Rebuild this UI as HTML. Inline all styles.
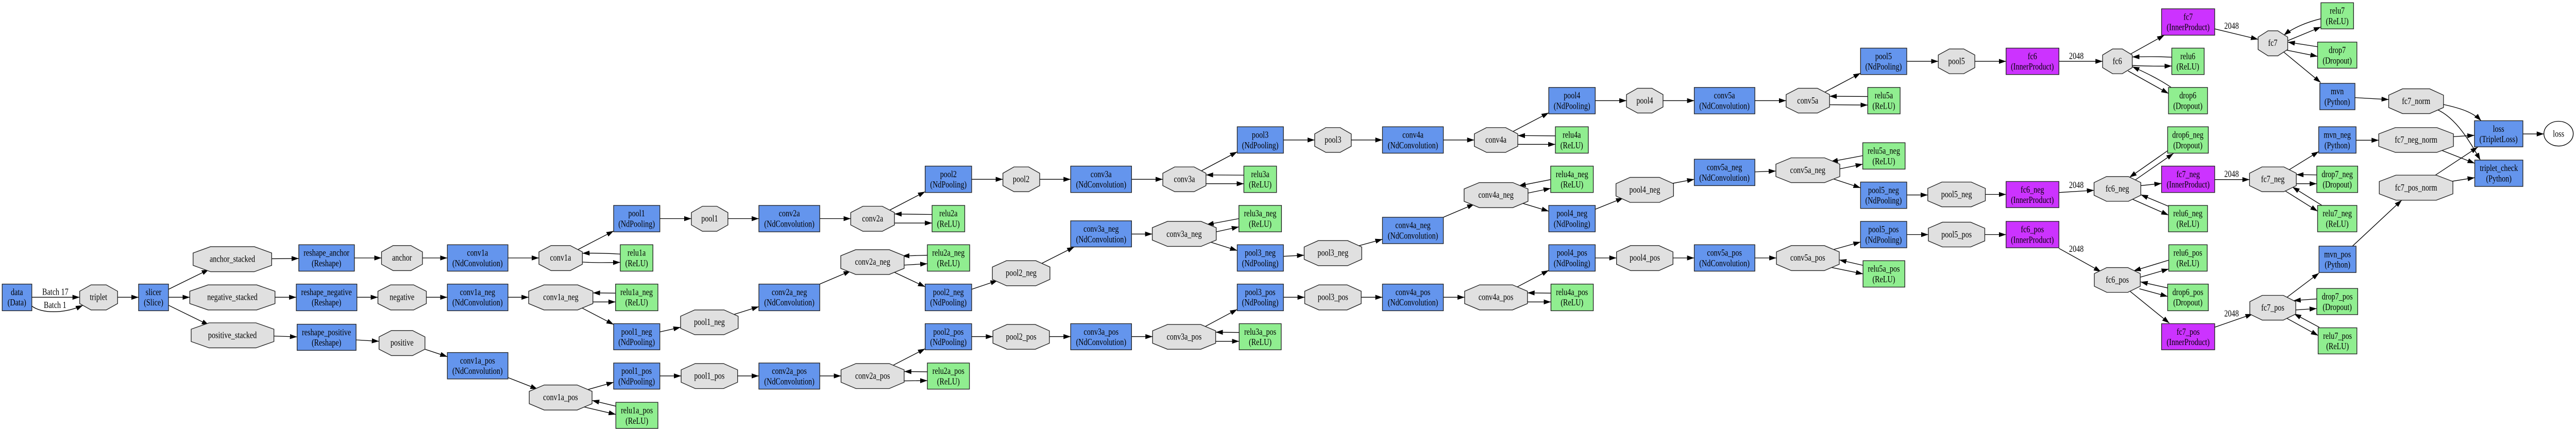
<!DOCTYPE html>
<html><head><meta charset="utf-8"><style>
html,body{margin:0;padding:0;background:#fff;width:100%;height:100%;overflow:hidden;}
svg{display:block;position:absolute;left:0;top:0;width:100%;height:100%;}
text{font-family:"Liberation Serif",serif;font-size:33px;text-anchor:middle;fill:#000;}
.b{fill:#6495ED;stroke:#222;stroke-width:2.5}
.g{fill:#90EE90;stroke:#222;stroke-width:2.5}
.m{fill:#CC33FF;stroke:#222;stroke-width:2.5}
.o{fill:#E0E0E0;stroke:#222;stroke-width:2.5}
.e{fill:none;stroke:#000;stroke-width:2.5;marker-end:url(#a)}
</style></head><body>
<svg width="100%" height="100%" viewBox="0 0 9311 1560" preserveAspectRatio="none" xmlns="http://www.w3.org/2000/svg">
<defs><marker id="a" markerWidth="26" markerHeight="18" refX="26" refY="9" orient="auto" markerUnits="userSpaceOnUse"><path d="M0,0L26,9L0,18z" fill="#000"/></marker></defs>
<rect width="9311" height="1560" fill="#fff"/>
<g>
<path class="e" d="M115,1081L288,1081"/>
<path class="e" d="M115,1113C150,1140 230,1142 300,1110"/>
<path class="e" d="M425,1081L501,1081"/>
<path class="e" d="M609,1052L755,980"/><path class="e" d="M609,1081L686,1081"/><path class="e" d="M609,1110L755,1182"/>
<path class="e" d="M982,941L1080,940"/><path class="e" d="M994,1081L1071,1081"/><path class="e" d="M990,1222L1074,1225"/>
<path class="e" d="M1281,938L1379,938"/><path class="e" d="M1290,1081L1366,1081"/><path class="e" d="M1287,1236L1370,1241"/>
<path class="e" d="M1527,938L1617,938"/><path class="e" d="M1541,1081L1617,1081"/><path class="e" d="M1536,1270L1617,1297"/>
<path class="e" d="M1836,938L1948,938"/><path class="e" d="M2088,908L2218,840"/><path class="e" d="M2242,924C2180,920 2140,920 2105,921"/><path class="e" d="M2105,953C2150,956 2200,955 2242,954"/>
<path class="e" d="M2385,795L2499,795"/><path class="e" d="M2631,795L2743,795"/><path class="e" d="M2963,795L3075,795"/>
<path class="e" d="M1836,1081L1911,1081"/><path class="e" d="M2225,1066L2143,1065"/><path class="e" d="M2143,1098L2225,1098"/><path class="e" d="M2098,1117L2218,1180"/>
<path class="e" d="M2385,1207L2460,1190"/><path class="e" d="M2651,1144L2743,1115"/><path class="e" d="M2963,1033L3075,985"/>
<path class="e" d="M1836,1373L1943,1415"/><path class="e" d="M2120,1418L2218,1390"/><path class="e" d="M2226,1477L2140,1456"/><path class="e" d="M2103,1478L2226,1507"/>
<path class="e" d="M2385,1367L2462,1367"/><path class="e" d="M2666,1367L2743,1367"/><path class="e" d="M2963,1367L3040,1367"/>
<path class="e" d="M3214,765L3344,697"/><path class="e" d="M3369,780L3233,778"/><path class="e" d="M3233,811L3369,811"/>
<path class="e" d="M3352,928L3261,931"/><path class="e" d="M3268,964L3352,959"/><path class="e" d="M3226,987L3344,1043"/>
<path class="e" d="M3512,652L3625,652"/><path class="e" d="M3512,1052L3606,1020"/><path class="e" d="M3512,1224L3589,1224"/>
<path class="e" d="M3223,1331L3344,1268"/><path class="e" d="M3352,1352L3268,1351"/><path class="e" d="M3268,1385L3352,1384"/>
<path class="e" d="M3758,652L3870,652"/><path class="e" d="M3761,960L3883,898"/><path class="e" d="M3793,1224L3870,1224"/>
<path class="e" d="M4090,652L4203,652"/><path class="e" d="M4090,851L4165,851"/><path class="e" d="M4090,1224L4166,1224"/>
<path class="e" d="M4341,622L4472,552"/><path class="e" d="M4496,637L4359,636"/><path class="e" d="M4359,668L4496,668"/>
<path class="e" d="M4478,795L4361,817"/><path class="e" d="M4396,843L4478,825"/><path class="e" d="M4374,880L4472,911"/>
<path class="e" d="M4351,1190L4472,1125"/><path class="e" d="M4479,1209L4394,1208"/><path class="e" d="M4394,1241L4479,1241"/>
<path class="e" d="M4639,509L4752,509"/><path class="e" d="M4639,932L4714,928"/><path class="e" d="M4639,1081L4716,1081"/>
<path class="e" d="M4884,509L4997,509"/><path class="e" d="M4907,895L4997,870"/><path class="e" d="M4920,1081L4997,1081"/>
<path class="e" d="M5217,509L5329,509"/><path class="e" d="M5217,790L5329,742"/><path class="e" d="M5217,1081L5294,1081"/>
<path class="e" d="M5467,479L5598,410"/><path class="e" d="M5622,494L5486,493"/><path class="e" d="M5486,525L5622,525"/>
<path class="e" d="M5605,653L5489,676"/><path class="e" d="M5523,702L5605,685"/><path class="e" d="M5499,738L5598,768"/>
<path class="e" d="M5479,1046L5598,983"/><path class="e" d="M5606,1066L5521,1065"/><path class="e" d="M5521,1098L5606,1098"/>
<path class="e" d="M5766,366L5879,366"/><path class="e" d="M5766,761L5867,720"/><path class="e" d="M5766,938L5843,938"/>
<path class="e" d="M6011,366L6124,366"/><path class="e" d="M6044,667L6124,652"/><path class="e" d="M6047,938L6124,938"/>
<path class="e" d="M6343,366L6456,366"/><path class="e" d="M6343,625L6419,622"/><path class="e" d="M6343,938L6421,938"/>
<path class="e" d="M6594,336L6725,266"/><path class="e" d="M6751,351L6613,350"/><path class="e" d="M6613,381L6751,382"/>
<path class="e" d="M6733,566L6617,588"/><path class="e" d="M6650,614L6733,597"/><path class="e" d="M6625,650L6725,683"/>
<path class="e" d="M6625,908L6725,880"/><path class="e" d="M6734,965L6648,945"/><path class="e" d="M6612,971L6734,996"/>
<path class="e" d="M6892,223L7006,223"/><path class="e" d="M6892,709L6968,709"/><path class="e" d="M6892,853L6970,853"/>
<path class="e" d="M7138,223L7251,223"/><path class="e" d="M7176,707L7251,707"/><path class="e" d="M7174,853L7251,853"/>
<path class="e" d="M7442,223L7600,223"/><path class="e" d="M7442,700L7569,692"/><path class="e" d="M7442,903L7594,988"/>
<path class="e" d="M7700,197L7823,128"/>
<path class="e" d="M7850,208C7790,205 7750,206 7707,207"/><path class="e" d="M7707,238C7760,241 7800,241 7850,240"/>
<path class="e" d="M7848,318C7800,285 7750,262 7707,242"/><path class="e" d="M7692,258L7838,340"/>
<path class="e" d="M7835,548L7697,645"/><path class="e" d="M7717,655L7856,558"/><path class="e" d="M7738,675L7813,667"/>
<path class="e" d="M7838,750L7738,708"/><path class="e" d="M7707,724L7838,782"/>
<path class="e" d="M7839,946L7712,985"/><path class="e" d="M7736,1008L7839,978"/><path class="e" d="M7835,1047L7737,1025"/>
<path class="e" d="M7733,1050L7835,1078"/><path class="e" d="M7700,1060L7841,1175"/>
<path class="e" d="M8005,105L8162,143"/>
<path class="e" d="M8389,68C8340,80 8290,100 8255,128"/><path class="e" d="M8269,148L8389,98"/>
<path class="e" d="M8377,170L8269,153"/><path class="e" d="M8263,182L8377,205"/><path class="e" d="M8253,188L8388,300"/>
<path class="e" d="M8512,355L8634,362"/>
<path class="e" d="M8832,380C8900,395 8940,410 8968,439"/>
<path class="e" d="M8808,398C8880,430 8930,520 8965,582"/>
<path class="e" d="M8516,510L8598,510"/><path class="e" d="M8868,497L8944,492"/><path class="e" d="M8821,545L8945,594"/>
<path class="e" d="M8798,640L8956,535"/><path class="e" d="M8858,660L8945,646"/><path class="e" d="M9119,487L9195,487"/>
<path class="e" d="M8005,653L8131,653"/><path class="e" d="M8273,618L8381,551"/><path class="e" d="M8374,636L8300,635"/>
<path class="e" d="M8300,668L8374,668"/><path class="e" d="M8393,747L8286,680"/><path class="e" d="M8258,693L8377,768"/>
<path class="e" d="M8005,1190L8142,1142"/><path class="e" d="M8265,1082L8382,993"/><path class="e" d="M8374,1087L8290,1093"/>
<path class="e" d="M8298,1127L8374,1122"/><path class="e" d="M8383,1190L8292,1141"/><path class="e" d="M8263,1156L8379,1220"/>
<path class="e" d="M8503,895L8681,728"/>
</g>
<g>
<polygon class="o" points="329,1036 384,1036 425,1059 425,1104 384,1127 329,1127 288,1104 288,1059"/>
<polygon class="o" points="761,897 919,897 982,920 982,965 919,988 761,988 698,965 698,920"/>
<polygon class="o" points="752,1036 928,1036 994,1059 994,1104 928,1127 752,1127 686,1104 686,1059"/>
<polygon class="o" points="756,1174 925,1174 990,1197 990,1242 925,1265 756,1265 691,1242 691,1197"/>
<polygon class="o" points="1421,893 1485,893 1527,916 1527,961 1485,984 1421,984 1379,961 1379,916"/>
<polygon class="o" points="1412,1036 1495,1036 1541,1059 1541,1104 1495,1127 1412,1127 1366,1104 1366,1059"/>
<polygon class="o" points="1415,1202 1491,1202 1536,1225 1536,1270 1491,1293 1415,1293 1370,1270 1370,1225"/>
<polygon class="o" points="1992,893 2061,893 2105,916 2105,961 2061,984 1992,984 1948,961 1948,916"/>
<polygon class="o" points="2539,750 2591,750 2631,773 2631,818 2591,841 2539,841 2499,818 2499,773"/>
<polygon class="o" points="1966,1036 2088,1036 2143,1059 2143,1104 2088,1127 1966,1127 1911,1104 1911,1059"/>
<polygon class="o" points="2511,1127 2617,1127 2668,1150 2668,1194 2617,1217 2511,1217 2460,1194 2460,1150"/>
<polygon class="o" points="1967,1400 2086,1400 2140,1423 2140,1468 2086,1491 1967,1491 1913,1468 1913,1423"/>
<polygon class="o" points="2513,1322 2615,1322 2666,1345 2666,1390 2615,1413 2513,1413 2462,1390 2462,1345"/>
<polygon class="o" points="3119,750 3189,750 3233,773 3233,818 3189,841 3119,841 3075,818 3075,773"/>
<polygon class="o" points="3093,908 3214,908 3268,930 3268,976 3214,998 3093,998 3039,976 3039,930"/>
<polygon class="o" points="3094,1322 3214,1322 3268,1345 3268,1390 3214,1413 3094,1413 3040,1390 3040,1345"/>
<polygon class="o" points="3665,607 3718,607 3758,630 3758,675 3718,697 3665,697 3625,675 3625,630"/>
<polygon class="o" points="3638,948 3744,948 3795,971 3795,1016 3744,1039 3638,1039 3587,1016 3587,971"/>
<polygon class="o" points="3640,1180 3742,1180 3793,1203 3793,1248 3742,1270 3640,1270 3589,1248 3589,1203"/>
<polygon class="o" points="4246,607 4316,607 4359,630 4359,675 4316,697 4246,697 4203,675 4203,630"/>
<polygon class="o" points="4220,805 4341,805 4396,828 4396,873 4341,896 4220,896 4165,873 4165,828"/>
<polygon class="o" points="4220,1180 4340,1180 4394,1203 4394,1248 4340,1270 4220,1270 4166,1248 4166,1203"/>
<polygon class="o" points="4792,464 4844,464 4884,487 4884,532 4844,554 4792,554 4752,532 4752,487"/>
<polygon class="o" points="4765,875 4871,875 4922,898 4922,943 4871,966 4765,966 4714,943 4714,898"/>
<polygon class="o" points="4767,1036 4869,1036 4920,1059 4920,1104 4869,1127 4767,1127 4716,1104 4716,1059"/>
<polygon class="o" points="5373,464 5442,464 5486,487 5486,532 5442,554 5373,554 5329,532 5329,487"/>
<polygon class="o" points="5347,664 5468,664 5523,687 5523,732 5468,755 5347,755 5292,732 5292,687"/>
<polygon class="o" points="5348,1036 5467,1036 5521,1059 5521,1104 5467,1127 5348,1127 5294,1104 5294,1059"/>
<polygon class="o" points="5919,321 5971,321 6011,344 6011,389 5971,411 5919,411 5879,389 5879,344"/>
<polygon class="o" points="5892,645 5998,645 6049,668 6049,713 5998,736 5892,736 5841,713 5841,668"/>
<polygon class="o" points="5894,893 5996,893 6047,916 6047,961 5996,984 5894,984 5843,961 5843,916"/>
<polygon class="o" points="6500,321 6569,321 6613,344 6613,389 6569,411 6500,411 6456,389 6456,344"/>
<polygon class="o" points="6474,574 6595,574 6650,597 6650,642 6595,664 6474,664 6419,642 6419,597"/>
<polygon class="o" points="6475,893 6594,893 6648,916 6648,961 6594,984 6475,984 6421,961 6421,916"/>
<polygon class="o" points="7046,178 7098,178 7138,200 7138,246 7098,268 7046,268 7006,246 7006,200"/>
<polygon class="o" points="7019,662 7125,662 7176,685 7176,730 7125,752 7019,752 6968,730 6968,685"/>
<polygon class="o" points="7021,808 7123,808 7174,830 7174,876 7123,898 7021,898 6970,876 6970,830"/>
<polygon class="o" points="7636,178 7671,178 7707,200 7707,246 7671,268 7636,268 7600,246 7600,200"/>
<polygon class="o" points="7614,642 7693,642 7738,664 7738,710 7693,732 7614,732 7569,710 7569,664"/>
<polygon class="o" points="7615,973 7691,973 7736,995 7736,1041 7691,1063 7615,1063 7570,1041 7570,995"/>
<polygon class="o" points="8198,112 8233,112 8269,135 8269,180 8233,203 8198,203 8162,180 8162,135"/>
<polygon class="o" points="8176,607 8255,607 8300,630 8300,675 8255,697 8176,697 8131,675 8131,630"/>
<polygon class="o" points="8177,1074 8253,1074 8298,1097 8298,1142 8253,1164 8177,1164 8132,1142 8132,1097"/>
<polygon class="o" points="8684,323 8782,323 8832,346 8832,391 8782,413 8684,413 8634,391 8634,346"/>
<polygon class="o" points="8658,464 8808,464 8868,487 8868,532 8808,554 8658,554 8598,532 8598,487"/>
<polygon class="o" points="8660,637 8806,637 8866,660 8866,705 8806,728 8660,728 8600,705 8600,660"/>
<ellipse cx="9248" cy="486" rx="53" ry="45" fill="#fff" stroke="#000" stroke-width="2.5"/>
</g>
<g>
<rect class="b" x="8" y="1033" width="107" height="97"/>
<rect class="b" x="501" y="1033" width="108" height="97"/>
<rect class="b" x="1080" y="890" width="201" height="96"/>
<rect class="b" x="1071" y="1033" width="219" height="97"/>
<rect class="b" x="1074" y="1179" width="213" height="95"/>
<rect class="b" x="1617" y="890" width="219" height="96"/>
<rect class="b" x="2218" y="747" width="167" height="96"/>
<rect class="g" x="2242" y="890" width="118" height="96"/>
<rect class="b" x="2743" y="747" width="220" height="96"/>
<rect class="b" x="1617" y="1033" width="219" height="97"/>
<rect class="g" x="2225" y="1033" width="153" height="97"/>
<rect class="b" x="2218" y="1177" width="167" height="95"/>
<rect class="b" x="2743" y="1033" width="220" height="97"/>
<rect class="b" x="1617" y="1282" width="219" height="96"/>
<rect class="b" x="2218" y="1320" width="167" height="95"/>
<rect class="g" x="2226" y="1463" width="152" height="95"/>
<rect class="b" x="2743" y="1320" width="220" height="95"/>
<rect class="b" x="3344" y="604" width="168" height="96"/>
<rect class="g" x="3369" y="747" width="118" height="96"/>
<rect class="g" x="3352" y="890" width="153" height="96"/>
<rect class="b" x="3344" y="1033" width="168" height="97"/>
<rect class="b" x="3344" y="1177" width="168" height="95"/>
<rect class="g" x="3352" y="1320" width="152" height="95"/>
<rect class="b" x="3870" y="604" width="220" height="96"/>
<rect class="b" x="3870" y="803" width="220" height="95"/>
<rect class="b" x="3870" y="1177" width="220" height="95"/>
<rect class="b" x="4472" y="461" width="167" height="96"/>
<rect class="g" x="4496" y="604" width="118" height="96"/>
<rect class="g" x="4478" y="747" width="154" height="96"/>
<rect class="b" x="4472" y="890" width="167" height="96"/>
<rect class="b" x="4472" y="1033" width="167" height="97"/>
<rect class="g" x="4479" y="1177" width="152" height="95"/>
<rect class="b" x="4997" y="461" width="220" height="96"/>
<rect class="b" x="4997" y="790" width="220" height="96"/>
<rect class="b" x="4997" y="1033" width="220" height="97"/>
<rect class="b" x="5598" y="318" width="168" height="96"/>
<rect class="g" x="5622" y="461" width="119" height="96"/>
<rect class="g" x="5605" y="604" width="154" height="96"/>
<rect class="b" x="5598" y="747" width="168" height="96"/>
<rect class="b" x="5598" y="890" width="168" height="96"/>
<rect class="g" x="5606" y="1033" width="153" height="97"/>
<rect class="b" x="6124" y="318" width="219" height="96"/>
<rect class="b" x="6124" y="579" width="219" height="96"/>
<rect class="b" x="6124" y="890" width="219" height="96"/>
<rect class="b" x="6725" y="175" width="167" height="96"/>
<rect class="g" x="6751" y="318" width="117" height="96"/>
<rect class="g" x="6733" y="519" width="153" height="96"/>
<rect class="b" x="6725" y="662" width="167" height="96"/>
<rect class="b" x="6725" y="805" width="167" height="96"/>
<rect class="g" x="6734" y="948" width="151" height="96"/>
<rect class="m" x="7251" y="175" width="191" height="96"/>
<rect class="m" x="7251" y="660" width="191" height="95"/>
<rect class="m" x="7251" y="805" width="191" height="96"/>
<rect class="m" x="7813" y="32" width="192" height="96"/>
<rect class="g" x="7850" y="175" width="117" height="96"/>
<rect class="g" x="7838" y="318" width="141" height="96"/>
<rect class="g" x="7835" y="461" width="147" height="96"/>
<rect class="m" x="7813" y="604" width="192" height="96"/>
<rect class="g" x="7838" y="747" width="141" height="96"/>
<rect class="g" x="7839" y="890" width="139" height="96"/>
<rect class="g" x="7835" y="1033" width="147" height="97"/>
<rect class="m" x="7813" y="1177" width="192" height="95"/>
<rect class="g" x="8389" y="10" width="118" height="95"/>
<rect class="g" x="8377" y="153" width="142" height="95"/>
<rect class="b" x="8385" y="303" width="127" height="96"/>
<rect class="b" x="8381" y="461" width="135" height="96"/>
<rect class="g" x="8374" y="604" width="148" height="96"/>
<rect class="g" x="8377" y="747" width="142" height="96"/>
<rect class="b" x="8382" y="895" width="134" height="96"/>
<rect class="g" x="8374" y="1049" width="148" height="95"/>
<rect class="g" x="8379" y="1192" width="140" height="95"/>
<rect class="b" x="8944" y="439" width="175" height="95"/>
<rect class="b" x="8945" y="582" width="174" height="96"/>
</g>
<g>
<text transform="translate(61 1073) scale(.8 1)">data</text><text transform="translate(61 1111) scale(.8 1)">(Data)</text>
<text transform="translate(555 1073) scale(.8 1)">slicer</text><text transform="translate(555 1111) scale(.8 1)">(Slice)</text>
<text transform="translate(200 1072) scale(.8 1)">Batch 17</text><text transform="translate(199 1120) scale(.8 1)">Batch 1</text>
<text transform="translate(356 1091) scale(.8 1)">triplet</text>
<text transform="translate(840 952) scale(.8 1)">anchor_stacked</text>
<text transform="translate(840 1091) scale(.8 1)">negative_stacked</text>
<text transform="translate(840 1229) scale(.8 1)">positive_stacked</text>
<text transform="translate(1180 930) scale(.8 1)">reshape_anchor</text><text transform="translate(1180 968) scale(.8 1)">(Reshape)</text>
<text transform="translate(1180 1073) scale(.8 1)">reshape_negative</text><text transform="translate(1180 1111) scale(.8 1)">(Reshape)</text>
<text transform="translate(1180 1219) scale(.8 1)">reshape_positive</text><text transform="translate(1180 1257) scale(.8 1)">(Reshape)</text>
<text transform="translate(1453 948) scale(.8 1)">anchor</text>
<text transform="translate(1453 1091) scale(.8 1)">negative</text>
<text transform="translate(1453 1257) scale(.8 1)">positive</text>
<text transform="translate(1726 930) scale(.8 1)">conv1a</text><text transform="translate(1726 968) scale(.8 1)">(NdConvolution)</text>
<text transform="translate(1726 1073) scale(.8 1)">conv1a_neg</text><text transform="translate(1726 1111) scale(.8 1)">(NdConvolution)</text>
<text transform="translate(1726 1322) scale(.8 1)">conv1a_pos</text><text transform="translate(1726 1360) scale(.8 1)">(NdConvolution)</text>
<text transform="translate(2026 948) scale(.8 1)">conv1a</text>
<text transform="translate(2027 1091) scale(.8 1)">conv1a_neg</text>
<text transform="translate(2026 1455) scale(.8 1)">conv1a_pos</text>
<text transform="translate(2301 787) scale(.8 1)">pool1</text><text transform="translate(2301 825) scale(.8 1)">(NdPooling)</text>
<text transform="translate(2301 930) scale(.8 1)">relu1a</text><text transform="translate(2301 968) scale(.8 1)">(ReLU)</text>
<text transform="translate(2301 1073) scale(.8 1)">relu1a_neg</text><text transform="translate(2301 1111) scale(.8 1)">(ReLU)</text>
<text transform="translate(2301 1217) scale(.8 1)">pool1_neg</text><text transform="translate(2301 1255) scale(.8 1)">(NdPooling)</text>
<text transform="translate(2301 1360) scale(.8 1)">pool1_pos</text><text transform="translate(2301 1398) scale(.8 1)">(NdPooling)</text>
<text transform="translate(2302 1503) scale(.8 1)">relu1a_pos</text><text transform="translate(2302 1541) scale(.8 1)">(ReLU)</text>
<text transform="translate(2565 805) scale(.8 1)">pool1</text>
<text transform="translate(2564 1182) scale(.8 1)">pool1_neg</text>
<text transform="translate(2564 1377) scale(.8 1)">pool1_pos</text>
<text transform="translate(2853 787) scale(.8 1)">conv2a</text><text transform="translate(2853 825) scale(.8 1)">(NdConvolution)</text>
<text transform="translate(2853 1073) scale(.8 1)">conv2a_neg</text><text transform="translate(2853 1111) scale(.8 1)">(NdConvolution)</text>
<text transform="translate(2853 1360) scale(.8 1)">conv2a_pos</text><text transform="translate(2853 1398) scale(.8 1)">(NdConvolution)</text>
<text transform="translate(3154 805) scale(.8 1)">conv2a</text>
<text transform="translate(3154 963) scale(.8 1)">conv2a_neg</text>
<text transform="translate(3154 1377) scale(.8 1)">conv2a_pos</text>
<text transform="translate(3428 644) scale(.8 1)">pool2</text><text transform="translate(3428 682) scale(.8 1)">(NdPooling)</text>
<text transform="translate(3428 787) scale(.8 1)">relu2a</text><text transform="translate(3428 825) scale(.8 1)">(ReLU)</text>
<text transform="translate(3428 930) scale(.8 1)">relu2a_neg</text><text transform="translate(3428 968) scale(.8 1)">(ReLU)</text>
<text transform="translate(3428 1073) scale(.8 1)">pool2_neg</text><text transform="translate(3428 1111) scale(.8 1)">(NdPooling)</text>
<text transform="translate(3428 1217) scale(.8 1)">pool2_pos</text><text transform="translate(3428 1255) scale(.8 1)">(NdPooling)</text>
<text transform="translate(3428 1360) scale(.8 1)">relu2a_pos</text><text transform="translate(3428 1398) scale(.8 1)">(ReLU)</text>
<text transform="translate(3691 662) scale(.8 1)">pool2</text>
<text transform="translate(3691 1003) scale(.8 1)">pool2_neg</text>
<text transform="translate(3691 1235) scale(.8 1)">pool2_pos</text>
<text transform="translate(3980 644) scale(.8 1)">conv3a</text><text transform="translate(3980 682) scale(.8 1)">(NdConvolution)</text>
<text transform="translate(3980 843) scale(.8 1)">conv3a_neg</text><text transform="translate(3980 881) scale(.8 1)">(NdConvolution)</text>
<text transform="translate(3980 1217) scale(.8 1)">conv3a_pos</text><text transform="translate(3980 1255) scale(.8 1)">(NdConvolution)</text>
<text transform="translate(4281 662) scale(.8 1)">conv3a</text>
<text transform="translate(4280 861) scale(.8 1)">conv3a_neg</text>
<text transform="translate(4280 1235) scale(.8 1)">conv3a_pos</text>
<text transform="translate(4555 501) scale(.8 1)">pool3</text><text transform="translate(4555 539) scale(.8 1)">(NdPooling)</text>
<text transform="translate(4555 644) scale(.8 1)">relu3a</text><text transform="translate(4555 682) scale(.8 1)">(ReLU)</text>
<text transform="translate(4555 787) scale(.8 1)">relu3a_neg</text><text transform="translate(4555 825) scale(.8 1)">(ReLU)</text>
<text transform="translate(4555 930) scale(.8 1)">pool3_neg</text><text transform="translate(4555 968) scale(.8 1)">(NdPooling)</text>
<text transform="translate(4555 1073) scale(.8 1)">pool3_pos</text><text transform="translate(4555 1111) scale(.8 1)">(NdPooling)</text>
<text transform="translate(4555 1217) scale(.8 1)">relu3a_pos</text><text transform="translate(4555 1255) scale(.8 1)">(ReLU)</text>
<text transform="translate(4818 519) scale(.8 1)">pool3</text>
<text transform="translate(4818 930) scale(.8 1)">pool3_neg</text>
<text transform="translate(4818 1091) scale(.8 1)">pool3_pos</text>
<text transform="translate(5107 501) scale(.8 1)">conv4a</text><text transform="translate(5107 539) scale(.8 1)">(NdConvolution)</text>
<text transform="translate(5107 830) scale(.8 1)">conv4a_neg</text><text transform="translate(5107 868) scale(.8 1)">(NdConvolution)</text>
<text transform="translate(5107 1073) scale(.8 1)">conv4a_pos</text><text transform="translate(5107 1111) scale(.8 1)">(NdConvolution)</text>
<text transform="translate(5407 519) scale(.8 1)">conv4a</text>
<text transform="translate(5407 719) scale(.8 1)">conv4a_neg</text>
<text transform="translate(5407 1091) scale(.8 1)">conv4a_pos</text>
<text transform="translate(5682 358) scale(.8 1)">pool4</text><text transform="translate(5682 396) scale(.8 1)">(NdPooling)</text>
<text transform="translate(5681 501) scale(.8 1)">relu4a</text><text transform="translate(5681 539) scale(.8 1)">(ReLU)</text>
<text transform="translate(5682 644) scale(.8 1)">relu4a_neg</text><text transform="translate(5682 682) scale(.8 1)">(ReLU)</text>
<text transform="translate(5682 787) scale(.8 1)">pool4_neg</text><text transform="translate(5682 825) scale(.8 1)">(NdPooling)</text>
<text transform="translate(5682 930) scale(.8 1)">pool4_pos</text><text transform="translate(5682 968) scale(.8 1)">(NdPooling)</text>
<text transform="translate(5682 1073) scale(.8 1)">relu4a_pos</text><text transform="translate(5682 1111) scale(.8 1)">(ReLU)</text>
<text transform="translate(5945 376) scale(.8 1)">pool4</text>
<text transform="translate(5945 700) scale(.8 1)">pool4_neg</text>
<text transform="translate(5945 948) scale(.8 1)">pool4_pos</text>
<text transform="translate(6233 358) scale(.8 1)">conv5a</text><text transform="translate(6233 396) scale(.8 1)">(NdConvolution)</text>
<text transform="translate(6233 619) scale(.8 1)">conv5a_neg</text><text transform="translate(6233 657) scale(.8 1)">(NdConvolution)</text>
<text transform="translate(6233 930) scale(.8 1)">conv5a_pos</text><text transform="translate(6233 968) scale(.8 1)">(NdConvolution)</text>
<text transform="translate(6534 376) scale(.8 1)">conv5a</text>
<text transform="translate(6534 629) scale(.8 1)">conv5a_neg</text>
<text transform="translate(6534 948) scale(.8 1)">conv5a_pos</text>
<text transform="translate(6808 215) scale(.8 1)">pool5</text><text transform="translate(6808 253) scale(.8 1)">(NdPooling)</text>
<text transform="translate(6809 358) scale(.8 1)">relu5a</text><text transform="translate(6809 396) scale(.8 1)">(ReLU)</text>
<text transform="translate(6809 559) scale(.8 1)">relu5a_neg</text><text transform="translate(6809 597) scale(.8 1)">(ReLU)</text>
<text transform="translate(6808 702) scale(.8 1)">pool5_neg</text><text transform="translate(6808 740) scale(.8 1)">(NdPooling)</text>
<text transform="translate(6808 845) scale(.8 1)">pool5_pos</text><text transform="translate(6808 883) scale(.8 1)">(NdPooling)</text>
<text transform="translate(6809 988) scale(.8 1)">relu5a_pos</text><text transform="translate(6809 1026) scale(.8 1)">(ReLU)</text>
<text transform="translate(7072 233) scale(.8 1)">pool5</text>
<text transform="translate(7072 717) scale(.8 1)">pool5_neg</text>
<text transform="translate(7072 863) scale(.8 1)">pool5_pos</text>
<text transform="translate(7346 215) scale(.8 1)">fc6</text><text transform="translate(7346 253) scale(.8 1)">(InnerProduct)</text>
<text transform="translate(7346 700) scale(.8 1)">fc6_neg</text><text transform="translate(7346 738) scale(.8 1)">(InnerProduct)</text>
<text transform="translate(7346 845) scale(.8 1)">fc6_pos</text><text transform="translate(7346 883) scale(.8 1)">(InnerProduct)</text>
<text transform="translate(7505 214) scale(.8 1)">2048</text>
<text transform="translate(7505 684) scale(.8 1)">2048</text>
<text transform="translate(7505 916) scale(.8 1)">2048</text>
<text transform="translate(7653 233) scale(.8 1)">fc6</text>
<text transform="translate(7653 697) scale(.8 1)">fc6_neg</text>
<text transform="translate(7653 1028) scale(.8 1)">fc6_pos</text>
<text transform="translate(7909 72) scale(.8 1)">fc7</text><text transform="translate(7909 110) scale(.8 1)">(InnerProduct)</text>
<text transform="translate(7908 215) scale(.8 1)">relu6</text><text transform="translate(7908 253) scale(.8 1)">(ReLU)</text>
<text transform="translate(7908 358) scale(.8 1)">drop6</text><text transform="translate(7908 396) scale(.8 1)">(Dropout)</text>
<text transform="translate(7908 501) scale(.8 1)">drop6_neg</text><text transform="translate(7908 539) scale(.8 1)">(Dropout)</text>
<text transform="translate(7909 644) scale(.8 1)">fc7_neg</text><text transform="translate(7909 682) scale(.8 1)">(InnerProduct)</text>
<text transform="translate(7908 787) scale(.8 1)">relu6_neg</text><text transform="translate(7908 825) scale(.8 1)">(ReLU)</text>
<text transform="translate(7908 930) scale(.8 1)">relu6_pos</text><text transform="translate(7908 968) scale(.8 1)">(ReLU)</text>
<text transform="translate(7908 1073) scale(.8 1)">drop6_pos</text><text transform="translate(7908 1111) scale(.8 1)">(Dropout)</text>
<text transform="translate(7909 1217) scale(.8 1)">fc7_pos</text><text transform="translate(7909 1255) scale(.8 1)">(InnerProduct)</text>
<text transform="translate(8066 105) scale(.8 1)">2048</text>
<text transform="translate(8066 643) scale(.8 1)">2048</text>
<text transform="translate(8066 1151) scale(.8 1)">2048</text>
<text transform="translate(8215 167) scale(.8 1)">fc7</text>
<text transform="translate(8215 662) scale(.8 1)">fc7_neg</text>
<text transform="translate(8215 1129) scale(.8 1)">fc7_pos</text>
<text transform="translate(8448 50) scale(.8 1)">relu7</text><text transform="translate(8448 88) scale(.8 1)">(ReLU)</text>
<text transform="translate(8448 193) scale(.8 1)">drop7</text><text transform="translate(8448 231) scale(.8 1)">(Dropout)</text>
<text transform="translate(8448 343) scale(.8 1)">mvn</text><text transform="translate(8448 381) scale(.8 1)">(Python)</text>
<text transform="translate(8448 501) scale(.8 1)">mvn_neg</text><text transform="translate(8448 539) scale(.8 1)">(Python)</text>
<text transform="translate(8448 644) scale(.8 1)">drop7_neg</text><text transform="translate(8448 682) scale(.8 1)">(Dropout)</text>
<text transform="translate(8448 787) scale(.8 1)">relu7_neg</text><text transform="translate(8448 825) scale(.8 1)">(ReLU)</text>
<text transform="translate(8449 935) scale(.8 1)">mvn_pos</text><text transform="translate(8449 973) scale(.8 1)">(Python)</text>
<text transform="translate(8448 1089) scale(.8 1)">drop7_pos</text><text transform="translate(8448 1127) scale(.8 1)">(Dropout)</text>
<text transform="translate(8449 1232) scale(.8 1)">relu7_pos</text><text transform="translate(8449 1270) scale(.8 1)">(ReLU)</text>
<text transform="translate(8733 378) scale(.8 1)">fc7_norm</text>
<text transform="translate(8733 519) scale(.8 1)">fc7_neg_norm</text>
<text transform="translate(8733 693) scale(.8 1)">fc7_pos_norm</text>
<text transform="translate(9031 479) scale(.8 1)">loss</text><text transform="translate(9031 517) scale(.8 1)">(TripletLoss)</text>
<text transform="translate(9032 622) scale(.8 1)">triplet_check</text><text transform="translate(9032 660) scale(.8 1)">(Python)</text>
<text transform="translate(9248 497) scale(.8 1)">loss</text>
</g>
</svg>
</body></html>
